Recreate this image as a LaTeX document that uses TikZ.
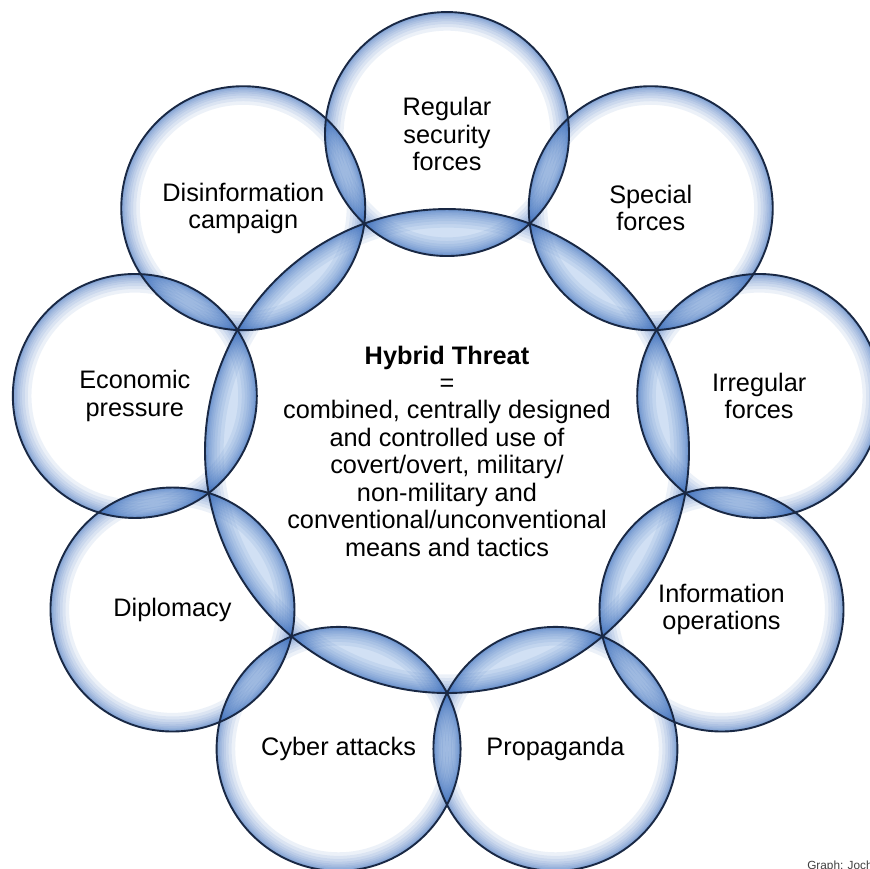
\documentclass[tikz,border=0pt]{standalone}
\usepackage{fontspec}
\setmainfont{Liberation Sans}
\usetikzlibrary{backgrounds}

\definecolor{bubbleblue}{RGB}{45,100,185}
\definecolor{lensblue}{RGB}{140,178,228}
\definecolor{rimline}{RGB}{25,40,68}

% blue glow just inside the rim of a bubble
\newcommand{\rimglow}[2]{%
	\foreach \w in {0.015,0.03,0.045,0.065,0.09,0.12,0.155,0.2,0.25,0.31}{
		\draw[bubbleblue, draw opacity=0.085, line width=\w*1cm] (#1) circle ({#2-\w/2});
	}%
}

\tikzset{
	bubble/.style={circle, draw=rimline, line width=0.9pt, minimum size=4.066cm, inner sep=0pt, align=center, font=\fontsize{12}{13}\selectfont},
	lens/.style={fill=lensblue, fill opacity=0.4}
}

\begin{document}
\begin{tikzpicture}
	\useasboundingbox (-7.45,-6.95) rectangle (7.05,7.517);
	\node[bubble, minimum size=8.066cm] (hybrid) at (0,0) {\textbf{Hybrid Threat}\\=\\combined, centrally designed\\and controlled use of\\covert/overt, military/\\non-military and\\conventional/unconventional\\means and tactics};
	\node[bubble] (regular) at (90:5.283) {Regular\\security\\forces};
	\node[bubble] (special) at (50:5.283) {Special\\forces};
	\node[bubble] (irregular) at (10:5.283) {Irregular\\forces};
	\node[bubble] (infoops) at (-30:5.283) {Information\\operations};
	\node[bubble] (propaganda) at (-70:5.283) {Propaganda};
	\node[bubble] (cyber) at (-110:5.283) {Cyber attacks};
	\node[bubble] (diplomacy) at (-150:5.283) {Diplomacy};
	\node[bubble] (economic) at (170:5.283) {Economic\\pressure};
	\node[bubble] (disinfo) at (130:5.283) {Disinformation\\campaign};
	\node[anchor=base west, text=black!75, font=\fontsize{5.6}{6}\selectfont] (credit) at (5.88,-6.975) {Graph: Joch};

	\begin{scope}[on background layer]
		\fill[white] (-7.45,-6.95) rectangle (7.05,7.517);
		% lenses where two bubbles overlap
		\foreach \a/\b in {regular/special,special/irregular,irregular/infoops,infoops/propaganda,propaganda/cyber,cyber/diplomacy,diplomacy/economic,economic/disinfo,disinfo/regular}{
			\begin{scope}
				\clip (\a) circle (2.033);
				\fill[lens] (\b) circle (2.033);
				\fill[lens] (hybrid) circle (4.033);
			\end{scope}
		}
		\rimglow{hybrid}{4.033}
		\foreach \b in {regular,special,irregular,infoops,propaganda,cyber,diplomacy,economic,disinfo}{
			\rimglow{\b}{2.033}
		}
	\end{scope}
\end{tikzpicture}
\end{document}
